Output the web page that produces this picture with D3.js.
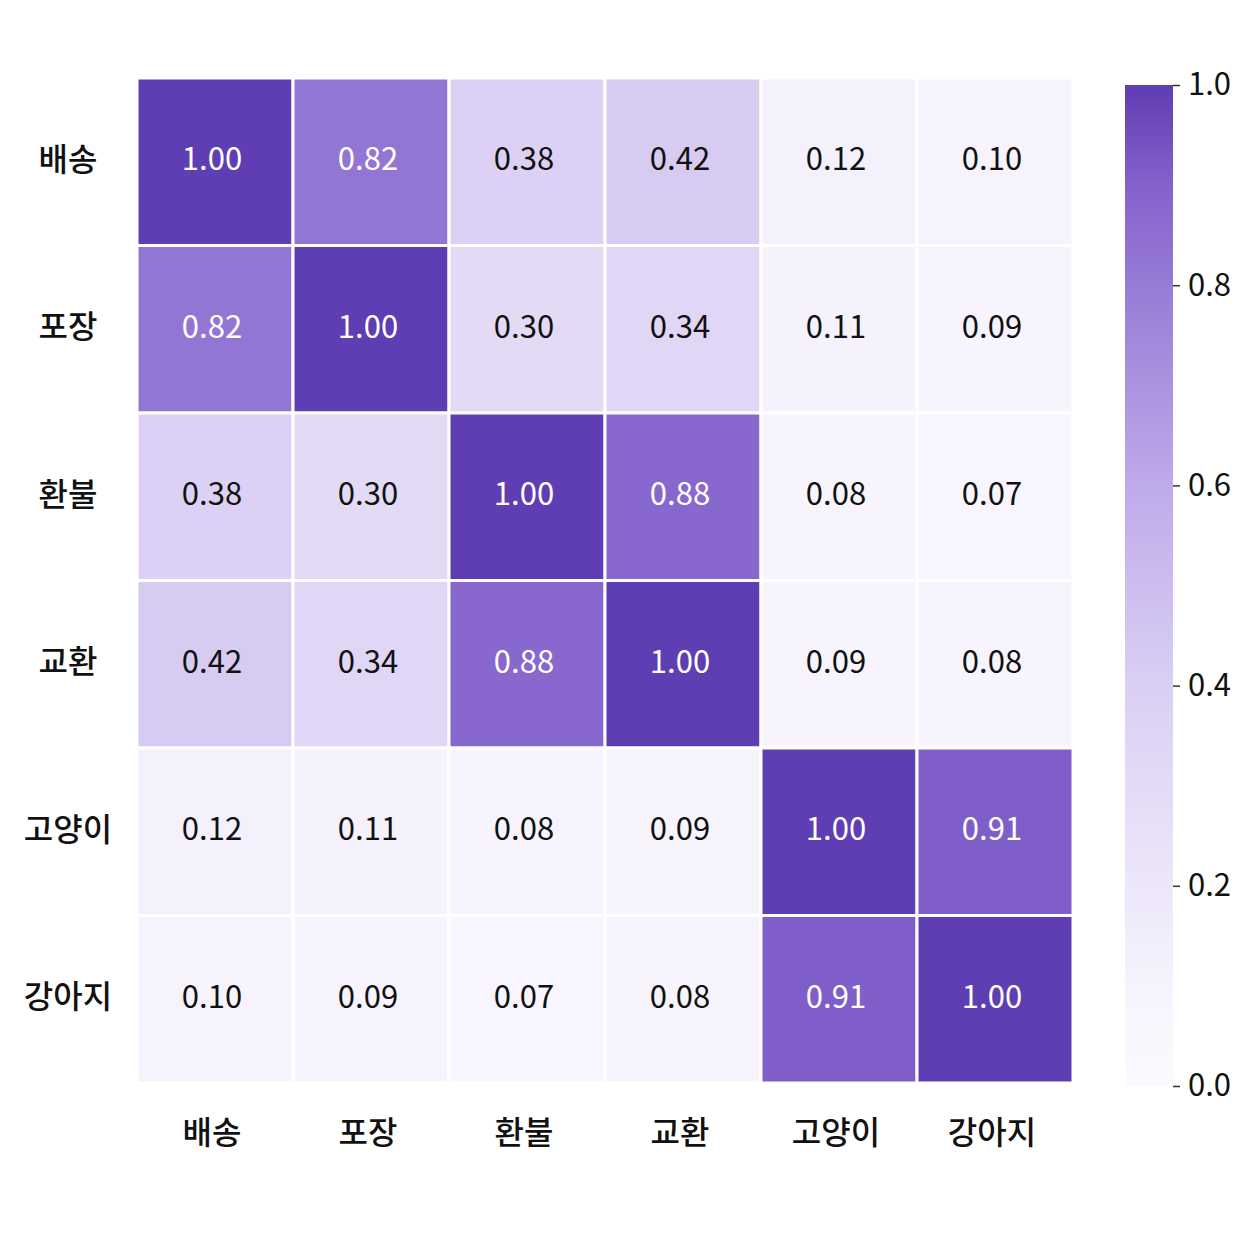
<!DOCTYPE html>
<html lang="ko">
<head>
<meta charset="utf-8">
<title>상관관계 히트맵</title>
<script src="https://d3js.org/d3.v7.min.js"></script>
<style>
  body { margin: 0; background: #fff; }
  text { font-family: "Noto Sans CJK KR", "Noto Sans", sans-serif; }
  .cell-label { font-size: 31px; }
  .axis-label { font-size: 32px; fill: #111; font-weight: 500; }
  .cbar-tick { font-size: 31px; fill: #111; }
</style>
</head>
<body>
<script>
// categories (same for rows and columns)
const labels = ["배송", "포장", "환불", "교환", "고양이", "강아지"];

// correlation matrix, row by row
const row0 = [1.00, 0.82, 0.38, 0.42, 0.12, 0.10];
const row1 = [0.82, 1.00, 0.30, 0.34, 0.11, 0.09];
const row2 = [0.38, 0.30, 1.00, 0.88, 0.08, 0.07];
const row3 = [0.42, 0.34, 0.88, 1.00, 0.09, 0.08];
const row4 = [0.12, 0.11, 0.08, 0.09, 1.00, 0.91];
const row5 = [0.10, 0.09, 0.07, 0.08, 0.91, 1.00];
const rows = [row0, row1, row2, row3, row4, row5];

// colorbar ticks
const cbarTicks = [0.0, 0.2, 0.4, 0.6, 0.8, 1.0];

const w = 1254, h = 1254;
const gridLeft = 137, gridRight = 1073, gridTop = 78, gridBottom = 1083;

const svg = d3.select("body").append("svg")
    .attr("width", w)
    .attr("height", h);

const x = d3.scaleBand().domain(labels).range([gridLeft, gridRight]);
const y = d3.scaleBand().domain(labels).range([gridTop, gridBottom]);

// purple sequential scale
const color = d3.scaleLinear()
    .domain([0, 0.1, 0.4, 0.6, 0.8, 0.9, 1])
    .range(["#fbfaff", "#f6f3fd", "#dacff3", "#bfaaea", "#977bd6", "#8462cc", "#5f3db2"])
    .interpolate(d3.interpolateRgb);

const cells = [];
rows.forEach((r, i) => r.forEach((v, j) => cells.push({row: labels[i], col: labels[j], v})));

svg.append("g").selectAll("rect")
    .data(cells)
    .join("rect")
    .attr("x", d => x(d.col))
    .attr("y", d => y(d.row))
    .attr("width", x.bandwidth())
    .attr("height", y.bandwidth())
    .attr("fill", d => color(d.v))
    .attr("stroke", "#fff")
    .attr("stroke-width", 3);

svg.append("g").selectAll("text")
    .data(cells)
    .join("text")
    .attr("class", "cell-label")
    .attr("x", d => x(d.col) + x.bandwidth() / 2 - 3)
    .attr("y", d => y(d.row) + y.bandwidth() / 2 - 5)
    .attr("text-anchor", "middle")
    .attr("dominant-baseline", "central")
    .attr("fill", d => d.v > 0.6 ? "#fff" : "#111")
    .text(d => d.v.toFixed(2));

// row labels
svg.append("g").selectAll("text")
    .data(labels)
    .join("text")
    .attr("class", "axis-label")
    .attr("x", 68)
    .attr("y", d => y(d) + y.bandwidth() / 2 - 5)
    .attr("text-anchor", "middle")
    .attr("dominant-baseline", "central")
    .text(d => d);

// column labels
svg.append("g").selectAll("text")
    .data(labels)
    .join("text")
    .attr("class", "axis-label")
    .attr("x", d => x(d) + x.bandwidth() / 2 - 3)
    .attr("y", 1130)
    .attr("text-anchor", "middle")
    .attr("dominant-baseline", "central")
    .text(d => d);

// colorbar
const cbX = 1125, cbW = 48, cbTop = 85, cbBottom = 1086;
const cbScale = d3.scaleLinear().domain([0, 1]).range([cbBottom, cbTop]);

const defs = svg.append("defs");
const grad = defs.append("linearGradient")
    .attr("id", "cbar")
    .attr("x1", 0).attr("y1", 1).attr("x2", 0).attr("y2", 0);
d3.range(0, 1.0001, 0.05).forEach(t => {
    grad.append("stop").attr("offset", t).attr("stop-color", color(t));
});

svg.append("rect")
    .attr("x", cbX)
    .attr("y", cbTop)
    .attr("width", cbW)
    .attr("height", cbBottom - cbTop)
    .attr("fill", "url(#cbar)");

const cbAxis = d3.axisRight(cbScale)
    .tickValues(cbarTicks)
    .tickFormat(d3.format(".1f"))
    .tickSize(7)
    .tickPadding(8);

const cbG = svg.append("g")
    .attr("transform", "translate(" + (cbX + cbW) + ",0)")
    .call(cbAxis);
cbG.select(".domain").remove();
cbG.selectAll("line").attr("stroke", "#333").attr("stroke-width", 1.5);
cbG.selectAll("text").attr("class", "cbar-tick").attr("font-family", null).attr("font-size", null);
</script>
</body>
</html>
